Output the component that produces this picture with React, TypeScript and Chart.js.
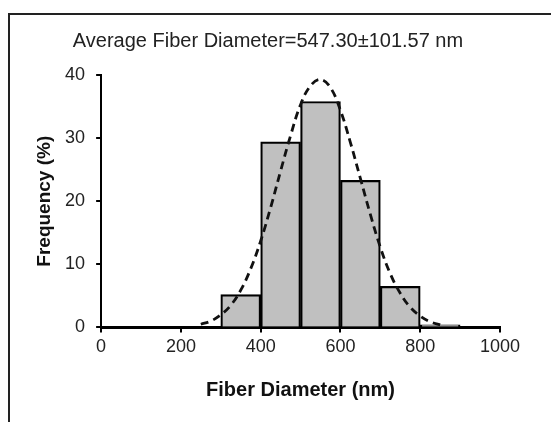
import React, { useEffect, useRef } from "react";
import { Chart, registerables } from "chart.js";

Chart.register(...registerables);

const titleText = "Average Fiber Diameter=547.30\u00b1101.57 nm";
const xTitle = "Fiber Diameter (nm)";
const yTitle = "Frequency (%)";

// histogram bins (centres, width 100 nm)
const binCenters = [350, 450, 550, 650, 750, 850];
const frequencies = [5.2, 29.4, 35.8, 23.3, 6.5, 0.4];

// dashed fitted curve
const fitX = [250, 275, 300, 325, 350, 375, 400, 425, 450, 475, 500, 525, 550, 575, 600, 625, 650, 675, 700, 725, 750, 775, 800, 825, 850];
const fitY = [0.5, 1.0, 2.0, 3.5, 5.9, 9.3, 13.7, 19.0, 24.8, 30.4, 35.3, 38.3, 39.3, 38.0, 34.4, 29.3, 23.6, 17.9, 12.7, 8.5, 5.4, 3.2, 1.8, 0.9, 0.4];

const xMin = 0;
const xMax = 1000;
const xStep = 200;
const yMin = 0;
const yMax = 40;
const yStep = 10;

const FONT = "'Liberation Sans', Arial, sans-serif";

export default function App() {
  const ref = useRef<HTMLCanvasElement | null>(null);

  useEffect(() => {
    if (!ref.current) return;
    const chart = new Chart(ref.current, {
      type: "bar",
      data: {
        datasets: [
          {
            type: "line",
            data: fitX.map((x, i) => ({ x, y: fitY[i] })),
            borderColor: "#111",
            borderWidth: 2.8,
            borderDash: [8, 5],
            pointRadius: 0,
            tension: 0.4,
            fill: false,
            order: 0,
          } as any,
          {
            type: "bar",
            data: binCenters.map((x, i) => ({ x, y: frequencies[i] })),
            backgroundColor: "#c0c0c0",
            borderColor: "#000",
            borderWidth: 2.2,
            barPercentage: 1,
            categoryPercentage: 1,
            order: 1,
          } as any,
        ],
      },
      options: {
        animation: false,
        responsive: false,
        devicePixelRatio: 1,
        layout: { padding: { left: 28, right: 28, top: 0, bottom: 12 } },
        plugins: {
          legend: { display: false },
          tooltip: { enabled: false },
          title: {
            display: true,
            text: titleText,
            color: "#222",
            font: { family: FONT, size: 20, weight: "normal" },
            padding: { top: 21, bottom: 22 },
          },
        },
        scales: {
          x: {
            type: "linear",
            min: xMin,
            max: xMax,
            offset: false,
            ticks: {
              stepSize: xStep,
              color: "#222",
              font: { family: FONT, size: 18 },
              padding: 4,
              maxRotation: 0,
              callback: (v: any) => String(v),
            },
            grid: {
              offset: false,
              drawOnChartArea: false,
              drawTicks: true,
              tickLength: 5,
              color: "#000",
              lineWidth: 2,
            },
            border: { display: true, color: "#000", width: 3 },
            title: {
              display: true,
              text: xTitle,
              color: "#111",
              font: { family: FONT, size: 20, weight: "bold" },
              padding: { top: 16, bottom: 0 },
            },
          },
          y: {
            min: yMin,
            max: yMax,
            ticks: {
              stepSize: yStep,
              color: "#222",
              font: { family: FONT, size: 18 },
              padding: 11,
              callback: (v: any) => String(v),
            },
            grid: {
              drawOnChartArea: false,
              drawTicks: true,
              tickLength: 5,
              color: "#000",
              lineWidth: 2,
            },
            border: { display: true, color: "#000", width: 2 },
            title: {
              display: true,
              text: yTitle,
              color: "#111",
              font: { family: FONT, size: 19, weight: "bold", lineHeight: 0.9 },
              padding: { top: 0, bottom: 1 },
            },
          },
        },
      } as any,
    });
    return () => chart.destroy();
  }, []);

  return (
    <div style={{ position: "relative", width: 543, height: 406 }}>
      <div
        style={{
          position: "fixed",
          left: 8,
          top: 13,
          width: 600,
          height: 500,
          borderTop: "2px solid #222",
          borderLeft: "2px solid #222",
        }}
      />
      <canvas
        ref={ref}
        width={520}
        height={406}
        style={{ position: "absolute", left: 0, top: 0, width: 520, height: 406 }}
      />
    </div>
  );
}
